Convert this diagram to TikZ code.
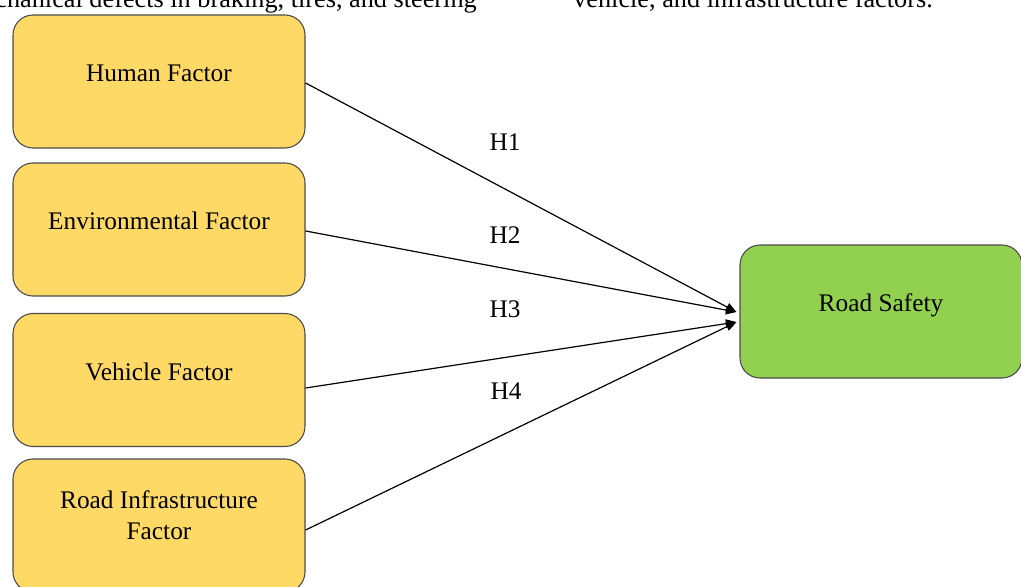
\documentclass[tikz,border=0pt]{standalone}
\usepackage{fontspec}
\setmainfont{Liberation Serif}
\usetikzlibrary{arrows.meta}
\definecolor{fyellow}{HTML}{FFD966}
\definecolor{fgreen}{HTML}{92D050}
\definecolor{boxline}{HTML}{4A4A4A}
\newcommand{\boxfont}{\fontsize{19}{23.25}\selectfont}
\newcommand{\topfont}{\fontsize{19.7}{23.6}\selectfont}
\tikzset{
  fbox/.style={draw=boxline, line width=0.8pt, rounded corners=15pt, fill=fyellow,
    minimum width=219pt, minimum height=99.75pt, inner sep=0pt, font=\boxfont,
    text height=10pt, text depth=10pt, align=center},
  gbox/.style={fbox, fill=fgreen, minimum width=211.5pt},
  arr/.style={draw=black, line width=0.9pt, -{Triangle[length=8pt,width=6.5pt]}},
  hyp/.style={font=\boxfont, anchor=base, inner sep=0pt},
  toptext/.style={font=\topfont, inner sep=0pt},
}
\begin{document}
\begin{tikzpicture}[x=0.75pt,y=-0.75pt]
\useasboundingbox (0,0) rectangle (1021,586);
\clip (0,0) rectangle (1021,586);
% cut-off text at the top
\node[toptext, anchor=base east] (t1) at (477,7) {mechanical defects in braking, tires, and steering};
\node[toptext, anchor=base west] (t2) at (573,7) {vehicle, and infrastructure factors.};
% boxes
\node[fbox] (b1) at (159,81.5) {Human Factor};
\node[fbox] (b2) at (159,229.5) {Environmental Factor};
\node[fbox] (b3) at (159,380) {Vehicle Factor};
\node[fbox, text height=33.25pt, text depth=13pt] (b4) at (159,525.5) {Road Infrastructure\\Factor};
\node[gbox] (rs) at (881,311.5) {Road Safety};
% connectors
\draw[arr] ([yshift=-1.1pt]b1.east) -- ([xshift=-2.25pt,yshift=-0.4pt]rs.west);
\draw[arr] ([yshift=-1.1pt]b2.east) -- ([xshift=-2.25pt,yshift=-0.4pt]rs.west);
\draw[arr] ([yshift=-6pt]b3.east) -- ([xshift=-2.25pt,yshift=-7.9pt]rs.west);
\draw[arr] ([yshift=-3.4pt]b4.east) -- ([xshift=-2.25pt,yshift=-7.9pt]rs.west);
% hypothesis labels
\node[hyp] (h1) at (505,150.7) {H1};
\node[hyp] (h2) at (505,243) {H2};
\node[hyp] (h3) at (505,317) {H3};
\node[hyp] (h4) at (506,399) {H4};
\end{tikzpicture}
\end{document}
